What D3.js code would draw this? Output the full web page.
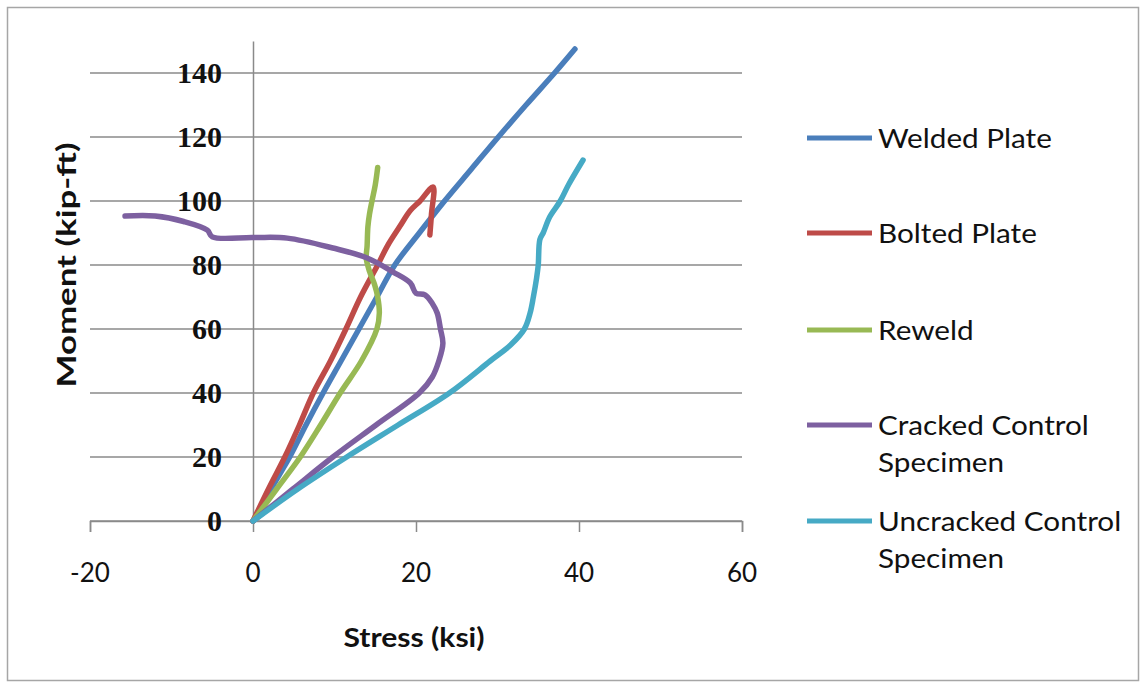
<!DOCTYPE html>
<html>
<head>
<meta charset="utf-8">
<script src="https://cdn.jsdelivr.net/npm/d3@7"></script>
<style>
  html, body { margin: 0; padding: 0; background: #fff; }
  svg { display: block; }
</style>
</head>
<body>
<svg id="chart" width="1143" height="687"></svg>
<script>
// ---------- data (stress ksi, moment kip-ft) ----------
const seriesNames = ["Welded Plate", "Bolted Plate", "Reweld", "Cracked Control Specimen", "Uncracked Control Specimen"];
const legendLines = [["Welded Plate"], ["Bolted Plate"], ["Reweld"], ["Cracked Control", "Specimen"], ["Uncracked Control", "Specimen"]];
const seriesColors = ["#4A7EBB", "#BE4B48", "#98B954", "#7D60A0", "#46AAC5"];

const weldedPlate = [[0,0],[2.2,10],[4.5,20],[6.5,30],[8.6,40],[10.8,50],[13,60],[15.2,70],[17.4,80],[20.4,90],[23.5,100],[26.8,110],[30.1,120],[33.5,130],[37,140],[39.5,147.5]];
const boltedPlate = [[0,0],[1.9,10],[3.9,20],[5.7,30],[7.4,40],[9.5,50],[11.4,60],[13.2,70],[15.3,80],[16.5,86],[18,92],[19.3,97],[20.5,100],[22.1,104.4],[21.9,96],[21.7,89.4]];
const reweld = [[0,0],[2.9,10],[5.8,20],[8.3,30],[10.7,40],[13.3,50],[15.2,60],[15.5,65],[15.3,70],[14.9,74],[14.3,78],[13.9,82],[14,86],[14.1,92],[14.3,96],[14.6,100],[15,105],[15.3,110.5]];
const crackedControl = [[0,0],[4.9,10],[9.8,20],[15.1,30],[20.4,40],[22,45],[22.8,50],[23.3,55.5],[23,60],[22.6,65],[22,68],[21.1,70.7],[20,71.2],[19.3,74.4],[17.2,77.8],[14,82.2],[9.8,85.3],[4.2,88.4],[0,88.6],[-5,88.8],[-5.6,90.9],[-8.5,93.6],[-12,95.3],[-15.7,95.3]];
const uncrackedControl = [[0,0],[5.5,10],[11.5,20],[17.8,30],[24.1,40],[29.1,50],[31.6,55],[33.3,60],[34,65],[34.4,70],[34.8,76],[35,80],[35.2,88],[35.6,90],[36.4,95],[37.7,100],[38.7,105],[40.5,112.8]];

const allSeries = [weldedPlate, boltedPlate, reweld, crackedControl, uncrackedControl];

const xTicks = [-20, 0, 20, 40, 60];
const yTicks = [0, 20, 40, 60, 80, 100, 120, 140];
const xTitle = "Stress (ksi)";
const yTitle = "Moment (kip-ft)";

// ---------- drawing ----------
const svg = d3.select("#chart");
const gridColor = "#8a8a8a";

svg.append("rect")
  .attr("x", 7.5).attr("y", 7.5).attr("width", 1131).attr("height", 673)
  .attr("fill", "#fff").attr("stroke", "#a6a6a6").attr("stroke-width", 1.5);

const x = d3.scaleLinear().domain([-20, 60]).range([90, 742]);
const y = d3.scaleLinear().domain([0, 150]).range([521, 41]);

// horizontal gridlines
svg.append("g").selectAll("line").data(yTicks).join("line")
  .attr("x1", x(-20)).attr("x2", x(60))
  .attr("y1", d => y(d)).attr("y2", d => y(d))
  .attr("stroke", gridColor).attr("stroke-width", 1.5);

// x axis at y=0
const xAxis = d3.axisBottom(x).tickValues(xTicks).tickSize(11).tickFormat("");
const gx = svg.append("g").attr("transform", `translate(0,${y(0)})`).call(xAxis);
gx.selectAll("path, line").attr("stroke", gridColor).attr("stroke-width", 1.5);

// y axis at x=0
const yAxis = d3.axisLeft(y).tickValues([]).tickSize(0);
const gy = svg.append("g").attr("transform", `translate(${x(0)},0)`).call(yAxis);
gy.select("path").attr("stroke", gridColor).attr("stroke-width", 1.5);

// tick labels
svg.append("g").selectAll("text").data(xTicks).join("text")
  .attr("x", d => x(d)).attr("y", 582)
  .attr("text-anchor", "middle")
  .attr("font-family", "Lato, 'Open Sans', sans-serif")
  .attr("font-size", 26).attr("fill", "#111")
  .text(d => d);

svg.append("g").selectAll("text").data(yTicks).join("text")
  .attr("x", x(0) - 31).attr("y", d => y(d) + 10)
  .attr("text-anchor", "end")
  .attr("font-family", "'Liberation Serif', 'DejaVu Serif', serif")
  .attr("font-weight", "bold")
  .attr("font-size", 30).attr("fill", "#111")
  .text(d => d);

// axis titles
svg.append("text")
  .attr("x", 414).attr("y", 647)
  .attr("text-anchor", "middle")
  .attr("font-family", "Lato, sans-serif").attr("font-weight", "bold")
  .attr("font-size", 26).attr("fill", "#111")
  .attr("textLength", 141).attr("lengthAdjust", "spacingAndGlyphs")
  .text(xTitle);

svg.append("text")
  .attr("transform", "translate(76,265) rotate(-90)")
  .attr("text-anchor", "middle")
  .attr("font-family", "Lato, sans-serif").attr("font-weight", "bold")
  .attr("font-size", 26).attr("fill", "#111")
  .attr("textLength", 245).attr("lengthAdjust", "spacingAndGlyphs")
  .text(yTitle);

// series lines
const line = d3.line().x(d => x(d[0])).y(d => y(d[1])).curve(d3.curveCatmullRom.alpha(0.5));
svg.append("g").selectAll("path").data(allSeries).join("path")
  .attr("d", line)
  .attr("fill", "none")
  .attr("stroke", (d, i) => seriesColors[i])
  .attr("stroke-width", 5.5)
  .attr("stroke-linejoin", "round")
  .attr("stroke-linecap", "round");

// legend
const legendY = [138, 233, 330, 425, 521];
const lg = svg.append("g");
seriesNames.forEach((name, i) => {
  const g = lg.append("g");
  g.append("line")
    .attr("x1", 807).attr("x2", 872)
    .attr("y1", legendY[i]).attr("y2", legendY[i])
    .attr("stroke", seriesColors[i]).attr("stroke-width", 5);
  legendLines[i].forEach((t, j) => {
    g.append("text")
      .attr("transform", `translate(878,${legendY[i] + 9.5 + j * 37.5}) scale(1.1,1)`)
      .attr("font-family", "Lato, sans-serif")
      .attr("font-size", 27).attr("fill", "#111")
      .text(t);
  });
});
</script>
</body>
</html>
